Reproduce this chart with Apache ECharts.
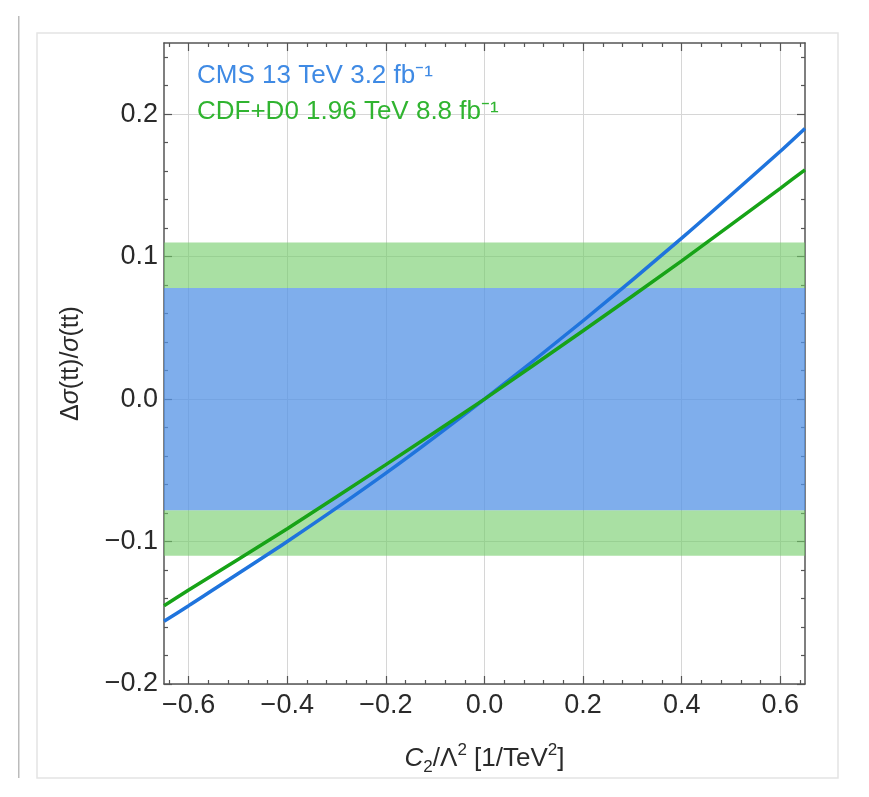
<!DOCTYPE html>
<html>
<head>
<meta charset="utf-8">
<script src="https://cdn.jsdelivr.net/npm/echarts@6/dist/echarts.min.js"></script>
<style>
  html, body { margin: 0; padding: 0; background: #fff; }
  #main { width: 869px; height: 797px; }
</style>
</head>
<body>
<div id="main"></div>
<script>
var cVals = [-0.65, -0.6, -0.4, -0.2, 0, 0.2, 0.4, 0.6, 0.65];
// relative change of the cross section
var cmsVals = [-0.156, -0.145, -0.100, -0.052, 0, 0.055, 0.113, 0.174, 0.190];
var tevVals = [-0.145, -0.134, -0.091, -0.046, 0, 0.048, 0.097, 0.148, 0.161];
// measured uncertainty bands (+/-)
var cmsBand = 0.078;
var tevBand = 0.11;
// tick positions
var xMajor = [-0.6, -0.4, -0.2, 0, 0.2, 0.4, 0.6];
var xMinor = [-0.64, -0.56, -0.52, -0.48, -0.44, -0.36, -0.32, -0.28, -0.24, -0.16, -0.12, -0.08, -0.04,
              0.04, 0.08, 0.12, 0.16, 0.24, 0.28, 0.32, 0.36, 0.44, 0.48, 0.52, 0.56, 0.64];
var yMajor = [-0.2, -0.1, 0, 0.1, 0.2];
var yMinor = [-0.18, -0.16, -0.14, -0.12, -0.08, -0.06, -0.04, -0.02,
              0.02, 0.04, 0.06, 0.08, 0.12, 0.14, 0.16, 0.18, 0.22, 0.24];

var names = ['CMS 13 TeV 3.2 fb⁻¹', 'CDF+D0 1.96 TeV 8.8 fb⁻¹'];
var blue = '#1f74dd', green = '#17a317';
var axisColor = '#555';
var txt = '#2a2a2a';
var font = 'Liberation Sans, Arial, sans-serif';

function fmt(v) {
	var s = Math.abs(v).toFixed(1);
	return v < -1e-9 ? '\u2212' + s : s;
}

function pairs(xs, ys) {
	var d = [];
	for (var i = 0; i < xs.length; i++) {
		d.push([ xs[i], ys[i] ]);
	}
	return d;
}

function xAx(pos, ticks, len, withLabel) {
	return {
		type : 'value',
		position : pos,
		min : -0.65,
		max : 0.65,
		axisLine : { show : withLabel !== null, onZero : false, lineStyle : { color : axisColor, width : 1.5 } },
		axisTick : { inside : true, length : len, customValues : ticks, lineStyle : { color : axisColor, width : 1.2 } },
		axisLabel : withLabel ? {
			customValues : ticks, margin : 8, fontSize : 27, color : txt, fontFamily : font,
			formatter : fmt
		} : { show : false },
		splitLine : { show : false }
	};
}

function yAx(pos, ticks, len, withLabel) {
	return {
		type : 'value',
		position : pos,
		min : -0.2,
		max : 0.25,
		axisLine : { show : withLabel !== null, onZero : false, lineStyle : { color : axisColor, width : 1.5 } },
		axisTick : { inside : true, length : len, customValues : ticks, lineStyle : { color : axisColor, width : 1.2 } },
		axisLabel : withLabel ? {
			customValues : ticks, margin : 6, fontSize : 27, color : txt, fontFamily : font,
			formatter : fmt
		} : { show : false },
		splitLine : { show : false }
	};
}

var xAxes = [
	xAx('bottom', xMajor, 8, true),
	xAx('bottom', xMinor, 4, null),
	xAx('top', xMajor, 8, false),
	xAx('top', xMinor, 4, null)
];
xAxes[0].name = '{i|C}{s|2}{a|/Λ}{p|2}{a| [1/TeV}{p|2}{a|]}';
xAxes[0].nameLocation = 'middle';
xAxes[0].nameGap = 58;
xAxes[0].nameTextStyle = {
	rich : {
		a : { fontSize : 26, lineHeight : 34, color : txt, fontFamily : font },
		i : { fontSize : 26, lineHeight : 34, color : txt, fontFamily : font, fontStyle : 'italic' },
		s : { fontSize : 17, lineHeight : 17, color : txt, fontFamily : font, verticalAlign : 'bottom' },
		p : { fontSize : 17, lineHeight : 17, color : txt, fontFamily : font, verticalAlign : 'top' }
	}
};
xAxes[0].splitLine = { show : true, lineStyle : { color : '#d6d6d6', width : 1 } };

var yAxes = [
	yAx('left', yMajor, 8, true),
	yAx('left', yMinor, 4, null),
	yAx('right', yMajor, 8, false),
	yAx('right', yMinor, 4, null)
];
yAxes[0].name = '{a|Δ}{i|σ}{a|(tt)/}{i|σ}{a|(tt)}';
yAxes[0].nameLocation = 'middle';
yAxes[0].nameRotate = 90;
yAxes[0].nameGap = 80;
yAxes[0].nameTextStyle = {
	rich : {
		a : { fontSize : 25, color : txt, fontFamily : font },
		i : { fontSize : 25, color : txt, fontFamily : font, fontStyle : 'italic' }
	}
};
yAxes[0].splitLine = { show : true, lineStyle : { color : '#d6d6d6', width : 1 } };

var option = {
	backgroundColor : '#fff',
	animation : false,
	grid : { left : 164, right : 64, top : 43, bottom : 113 },
	xAxis : xAxes,
	yAxis : yAxes,
	graphic : [ {
		type : 'rect',
		shape : { x : 37, y : 33, width : 801, height : 745 },
		style : { fill : 'none', stroke : '#e4e4e4', lineWidth : 1.5 },
		z : -10
	}, {
		type : 'rect',
		shape : { x : 18, y : 16, width : 1.5, height : 762 },
		style : { fill : '#bbb' },
		z : -10
	}, {
		type : 'text',
		left : 197,
		top : 63,
		z : 100,
		style : { text : names[0], fill : '#3f8ae4', fontSize : 26, fontFamily : font }
	}, {
		type : 'text',
		left : 197,
		top : 99,
		z : 100,
		style : { text : names[1], fill : '#30b430', fontSize : 26, fontFamily : font }
	} ],
	series : [ {
		name : names[1],
		type : 'line',
		data : pairs(cVals, tevVals),
		showSymbol : false,
		smooth : 0.2,
		z : 4,
		lineStyle : { color : green, width : 3.5 },
		markArea : {
			silent : true,
			itemStyle : { color : 'rgba(112,203,102,0.6)' },
			data : [
				[ { yAxis : cmsBand }, { yAxis : tevBand } ],
				[ { yAxis : -tevBand }, { yAxis : -cmsBand } ]
			]
		}
	}, {
		name : names[0],
		type : 'line',
		data : pairs(cVals, cmsVals),
		showSymbol : false,
		smooth : 0.2,
		z : 3,
		lineStyle : { color : blue, width : 3.5 },
		markArea : {
			silent : true,
			itemStyle : { color : 'rgba(84,147,230,0.75)' },
			data : [ [ { yAxis : -cmsBand }, { yAxis : cmsBand } ] ]
		}
	} ]
};

var chart = echarts.init(document.getElementById('main'));
chart.setOption(option);
</script>
</body>
</html>
